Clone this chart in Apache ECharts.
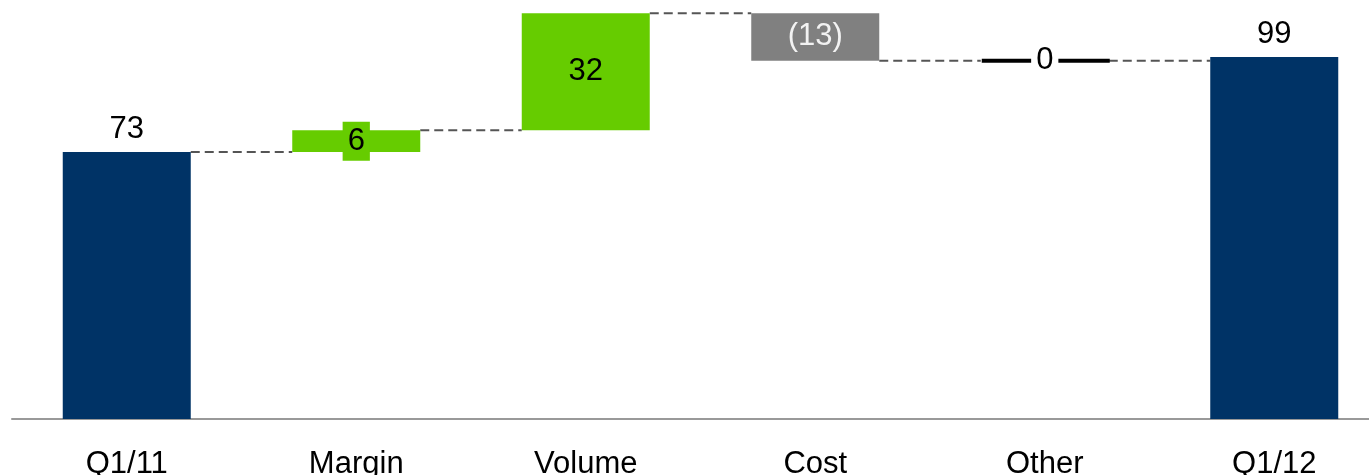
<!DOCTYPE html>
<html>
<head>
<meta charset="utf-8">
<script src="https://cdn.jsdelivr.net/npm/echarts@6/dist/echarts.min.js"></script>
<style>
  html, body { margin: 0; padding: 0; background: #ffffff; }
  #chart { width: 1369px; height: 475px; }
</style>
</head>
<body>
<div id="chart"></div>
<script>
// Bridge from Q1/11 to Q1/12: opening total, drivers, closing total
const categories = ['Q1/11', 'Margin', 'Volume', 'Cost', 'Other', 'Q1/12'];
const values = [73, 6, 32, -13, 0, 99];
const isTotal = [true, false, false, false, false, true];

const COLORS = { total: '#003366', up: '#66cc00', down: '#808080', flat: '#000000' };
const FONT = "'Liberation Sans', Arial, Helvetica, sans-serif";
const FONT_SIZE = 31;
const BAR_W = 128;

// Negative values are shown in parentheses
const fmt = v => (v < 0 ? '(' + Math.abs(v) + ')' : String(v));

// Rows of [index, start, end] for the floating bars
const rows = [];
let running = 0;
values.forEach((v, i) => {
  let start, end;
  if (isTotal[i]) { start = 0; end = v; }
  else { start = running; end = running + v; }
  running = end;
  rows.push([i, start, end]);
});

function colorFor(i) {
  if (isTotal[i]) return COLORS.total;
  const v = values[i];
  if (v > 0) return COLORS.up;
  if (v < 0) return COLORS.down;
  return COLORS.flat;
}

function renderItem(params, api) {
  const i = api.value(0);
  const s = api.value(1);
  const e = api.value(2);
  const pTop = api.coord([i, Math.max(s, e)]);
  const pBot = api.coord([i, Math.min(s, e)]);
  const cx = pTop[0];
  const x0 = cx - BAR_W / 2;
  const children = [];
  const color = colorFor(i);

  // Dashed connector to the next bar at this bar's end level
  if (i < categories.length - 1) {
    const p = api.coord([i, e]);
    const q = api.coord([i + 1, e]);
    children.push({
      type: 'line',
      shape: { x1: p[0] + BAR_W / 2, y1: p[1], x2: q[0] - BAR_W / 2, y2: p[1] },
      style: { stroke: '#555555', lineWidth: 2, lineDash: [9, 5] }
    });
  }

  const h = pBot[1] - pTop[1];
  if (s !== e) {
    children.push({
      type: 'rect',
      shape: { x: x0, y: pTop[1], width: BAR_W, height: h },
      style: { fill: color }
    });
  } else {
    // A zero change is drawn as a thick flat line
    children.push({
      type: 'line',
      shape: { x1: x0 + 1, y1: pTop[1], x2: x0 + BAR_W + 1, y2: pTop[1] },
      style: { stroke: COLORS.flat, lineWidth: 4 }
    });
  }

  // Value label
  const v = values[i];
  const labelStyle = {
    text: fmt(v),
    font: FONT_SIZE + 'px ' + FONT,
    fill: '#000000',
    align: 'center',
    verticalAlign: 'middle',
    x: cx
  };
  if (isTotal[i]) {
    labelStyle.y = pTop[1] - 23;
  } else if (v === 0) {
    labelStyle.y = pTop[1];
    labelStyle.backgroundColor = '#ffffff';
    labelStyle.padding = [0, 5];
  } else {
    labelStyle.y = pTop[1] + h / 2;
    if (v < 0) labelStyle.fill = '#f2f2f2';
    if (h < FONT_SIZE) {
      // Short bars carry their label on a patch of the bar colour
      labelStyle.backgroundColor = color;
      labelStyle.padding = [4, 5];
    }
  }
  children.push({ type: 'text', style: labelStyle });

  return { type: 'group', children: children };
}

const chart = echarts.init(document.getElementById('chart'), null, { renderer: 'canvas' });
chart.setOption({
  animation: false,
  backgroundColor: '#ffffff',
  grid: {
    left: 12, width: 1377, top: 0, bottom: 56,
    containLabel: false, outerBoundsMode: 'none'
  },
  xAxis: {
    type: 'category',
    data: categories,
    axisLine: { show: true, lineStyle: { color: '#999999', width: 2 } },
    axisTick: { show: false },
    splitLine: { show: false },
    axisLabel: { color: '#000000', fontSize: FONT_SIZE, fontFamily: FONT, margin: 30 }
  },
  yAxis: {
    type: 'value',
    min: 0,
    max: 114.6,
    show: false,
    splitLine: { show: false }
  },
  series: [{
    type: 'custom',
    renderItem: renderItem,
    encode: { x: 0, y: [1, 2] },
    data: rows,
    clip: false
  }]
});
</script>
</body>
</html>
